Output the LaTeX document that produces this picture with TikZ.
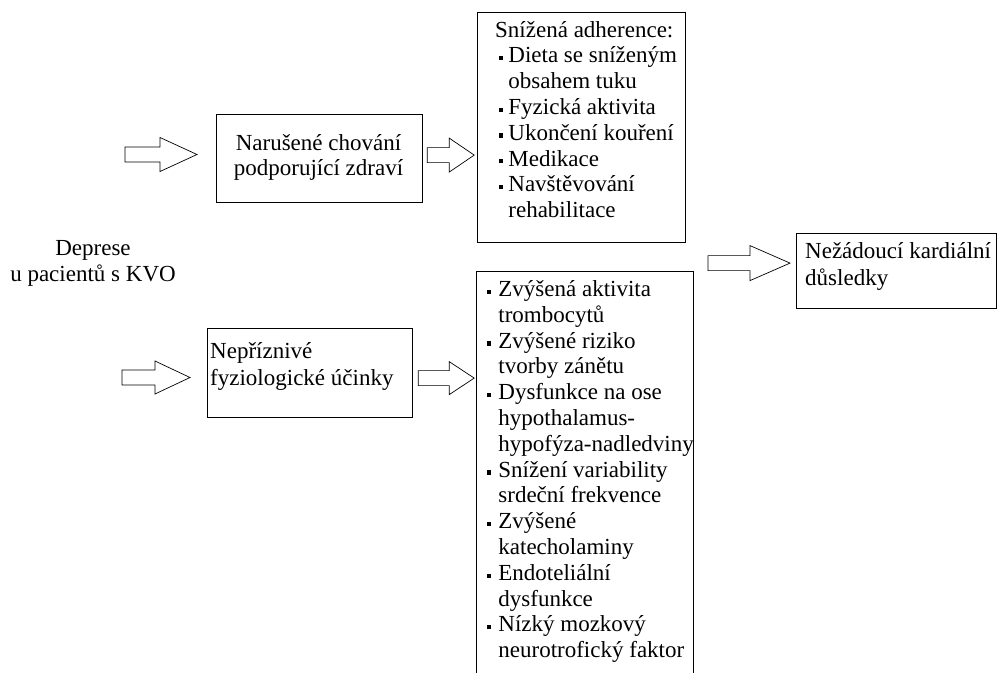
\documentclass[tikz,border=0pt]{standalone}
\usepackage{fontspec}
\usetikzlibrary{calc}
\setmainfont{Liberation Serif}
\newcommand{\blt}{\raisebox{2.6pt}{\rule{4.2pt}{4.2pt}}}
\newcommand{\fsz}{\fontsize{23}{25.8}\selectfont}
\tikzset{
  box/.style={draw=black, line width=1.2pt, rectangle, inner sep=0pt, anchor=north west},
  txt/.style={inner sep=0pt, anchor=base west, font=\fsz},
  arrowline/.style={draw=black, line width=0.7pt, line join=miter, fill=white},
  pics/blockarrow/.style n args={4}{code={
    \draw[arrowline] (0,-#3) -- (#1,-#3) -- (#1,-#4) -- (#2,0) -- (#1,#4) -- (#1,#3) -- (0,#3) -- cycle;
  }}
}
\begin{document}
\begin{tikzpicture}[x=1pt,y=-1pt]
\useasboundingbox (0,0) rectangle (998,672);
\clip (0,0) rectangle (998,672);
\fill[white] (0,0) rectangle (998,672);

% boxes
\node[box, minimum width=206, minimum height=88] (A) at (216,114) {};
\node[box, minimum width=208, minimum height=230] (B) at (477,12) {};
\node[box, minimum width=217, minimum height=420] (C) at (476,271) {};
\node[box, minimum width=200, minimum height=75] (D) at (796,233) {};
\node[box, minimum width=205, minimum height=89] (E) at (207,328) {};

% texts
\node[txt, anchor=base] (depr) at (93,255) {\begin{tabular}[t]{@{}c@{}}Deprese\\[0.3pt]u pacientů s KVO\end{tabular}};

\node[txt, anchor=base] (Atxt) at (318.5,150) {\begin{tabular}[t]{@{}c@{}}Narušené chování\\podporující zdraví\end{tabular}};

\node[txt] (Etxt) at (210,358.5) {\begin{tabular}[t]{@{}l@{}}Nepříznivé\\[1pt]fyziologické účinky\end{tabular}};

\node[txt] (Dtxt) at (805,258) {\begin{tabular}[t]{@{}l@{}}Nežádoucí kardiální\\[1.5pt]důsledky\end{tabular}};

\node[txt] (Bhead) at (495,37) {Snížená adherence:};
\node[txt] (Blist) at (499,62.8) {\begin{tabular}[t]{@{}l@{\hspace{5pt}}l@{}}
\blt & Dieta se sníženým\\
     & obsahem tuku\\
\blt & Fyzická aktivita\\
\blt & Ukončení kouření\\
\blt & Medikace\\
\blt & Navštěvování\\
     & rehabilitace
\end{tabular}};

\node[txt] (Clist) at (487,296.5) {\begin{tabular}[t]{@{}l@{\hspace{7pt}}l@{}}
\blt & Zvýšená aktivita\\
     & trombocytů\\
\blt & Zvýšené riziko\\
     & tvorby zánětu\\
\blt & Dysfunkce na ose\\
     & hypothalamus-\\
     & hypofýza-nadledviny\\
\blt & Snížení variability\\
     & srdeční frekvence\\
\blt & Zvýšené\\
     & katecholaminy\\
\blt & Endoteliální\\
     & dysfunkce\\
\blt & Nízký mozkový\\
     & neurotrofický faktor
\end{tabular}};

% block arrows
\pic at (125,154.5) {blockarrow={35}{72}{7.5}{17}};
\pic at ($(A.east)+(4,-3.5)$) {blockarrow={22}{47}{7.5}{17}};
\pic at (122,377.5) {blockarrow={33}{68}{7.5}{16.5}};
\pic at ($(E.east)+(5,5)$) {blockarrow={31}{56}{7.5}{16.5}};
\pic at ($(D.west)+(-88,-8)$) {blockarrow={42}{82}{7.5}{17.5}};
\end{tikzpicture}
\end{document}
